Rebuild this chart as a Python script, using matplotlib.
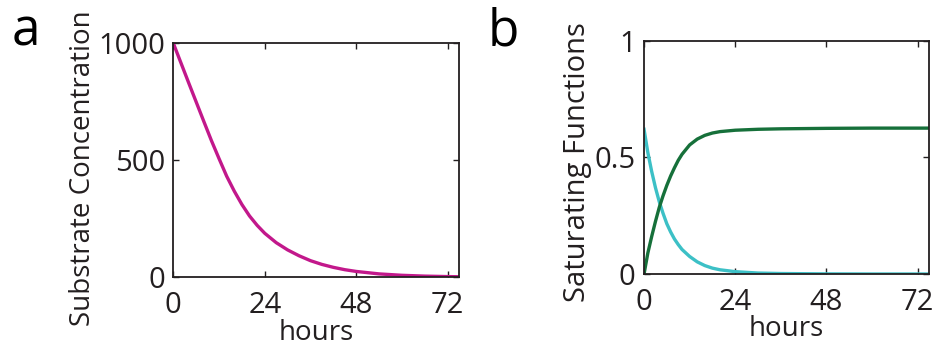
import matplotlib
matplotlib.use("Agg")
import matplotlib.pyplot as plt
import numpy as np

plt.rcParams['font.family'] = ['Open Sans', 'DejaVu Sans']

# panel a: substrate concentration
t_sub = [0, 2, 4, 6, 8, 10, 12, 14, 16, 18, 20, 22, 24, 27, 30, 33, 36, 39, 42, 45, 48, 54, 60, 66, 72, 75]
substrate = [1000, 916, 832, 749, 666, 584, 507, 432, 368, 311, 262, 222, 188, 148, 117, 92, 71, 55, 42.5, 32.5, 25, 14.5, 8.5, 5, 3, 2.3]

# panel b: saturating functions
t_sat = [0, 1, 2, 3, 4, 5, 6, 7, 8, 9, 10, 12, 14, 16, 18, 20, 24, 30, 36, 48, 60, 75]
decay = [0.62, 0.52, 0.44, 0.37, 0.31, 0.26, 0.215, 0.18, 0.15, 0.126, 0.105, 0.075, 0.052, 0.036, 0.025, 0.018, 0.010, 0.004, 0.002, 0.0005, 0.0, 0.0]
rise = [0.0, 0.09, 0.16, 0.225, 0.285, 0.335, 0.38, 0.42, 0.455, 0.487, 0.513, 0.553, 0.578, 0.594, 0.604, 0.610, 0.616, 0.620, 0.622, 0.624, 0.625, 0.625]

xticks = [0, 24, 48, 72]

MAGENTA = '#C2188B'
CYAN = '#3CC0C6'
GREEN = '#16703A'
INK = '#231F20'


def style_axes(ax):
    ax.set_xlim(0, 75)
    ax.set_xticks(xticks)
    ax.tick_params(direction='in', length=4, width=1, top=True, right=True,
                   labelsize=21, pad=6, colors=INK)
    ax.tick_params(axis='x', pad=10)
    for sp in ax.spines.values():
        sp.set_linewidth(1.3)
        sp.set_color(INK)
    ax.set_xlabel("hours", fontsize=20, labelpad=-1, color=INK)


fig = plt.figure(figsize=(9.33, 3.47), dpi=100)

ax1 = fig.add_axes([0.1858, 0.2009, 0.3062, 0.6743])
ax1.plot(t_sub, substrate, color=MAGENTA, lw=2.4)
ax1.set_ylim(0, 1000)
ax1.set_yticks([0, 500, 1000])
style_axes(ax1)
ax1.set_ylabel("Substrate Concentration", fontsize=20, labelpad=1, color=INK)
ax1.yaxis.label.set_y(0.465)

ax2 = fig.add_axes([0.6903, 0.2104, 0.3054, 0.6726])
ax2.plot(t_sat, decay, color=CYAN, lw=2.4)
ax2.plot(t_sat, rise, color=GREEN, lw=2.4)
ax2.set_ylim(0, 1)
ax2.set_yticks([0, 0.5, 1])
ax2.set_yticklabels(['0', '0.5', '1'])
style_axes(ax2)
ax2.set_ylabel("Saturating Functions", fontsize=21, labelpad=2, color=INK)
ax2.yaxis.label.set_y(0.48)

fig.text(0.012, 0.87, "a", fontsize=37, color='black')
fig.text(0.523, 0.87, "b", fontsize=37, color='black')

fig.savefig("out.png", dpi=100)
